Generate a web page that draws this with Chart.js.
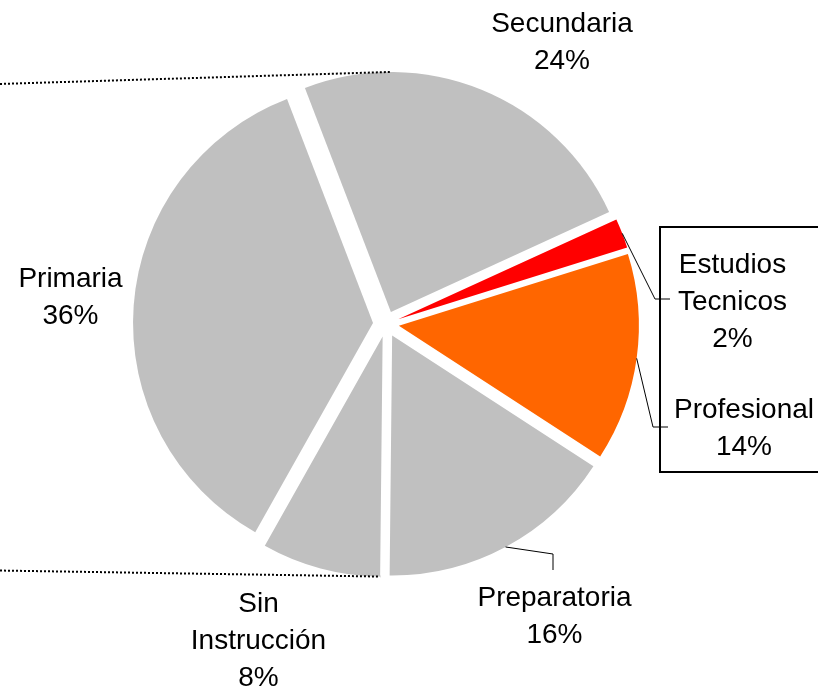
<!DOCTYPE html>
<html>
<head>
<meta charset="utf-8">
<script src="https://cdn.jsdelivr.net/npm/chart.js@4.4.1/dist/chart.umd.min.js"></script>
<style>
  html, body { margin: 0; padding: 0; background: #ffffff; }
  #wrap { width: 818px; height: 689px; }
</style>
</head>
<body>
<div id="wrap"><canvas id="c" width="818" height="689"></canvas></div>
<script>
// Nivel de escolaridad (porcentaje)
const categories = ['Secundaria', 'Estudios Tecnicos', 'Profesional', 'Preparatoria', 'Sin Instrucción', 'Primaria'];
const shares = [24, 2, 14, 16, 8, 36];
const sliceColors = ['#C0C0C0', '#FF0000', '#FF6600', '#C0C0C0', '#C0C0C0', '#C0C0C0'];
const labelLines = [['Secundaria'], ['Estudios', 'Tecnicos'], ['Profesional'], ['Preparatoria'], ['Sin', 'Instrucción'], ['Primaria']];

// label placement: [center x, first baseline y]
const labelAnchors = [[562, 32], [732.5, 273], [744, 418], [554.5, 606], [258.5, 612], [70.5, 287]];
// leader line elbows for labels set away from their slices: [slice index, elbow, end]
const leaders = [
  [1, [655, 299], [670, 299]],
  [2, [653, 427], [668, 427]],
  [3, [553, 554], [553, 570]]
];
const EXPLODE = 13;
const FONT = '28px "Liberation Sans", Arial, sans-serif';
const LINE_STEP = 37;

function sliceOrigin(arc) {
  const mid = (arc.startAngle + arc.endAngle) / 2;
  return [arc.x + Math.cos(mid) * EXPLODE, arc.y + Math.sin(mid) * EXPLODE];
}
function rimPoint(arc, angle) {
  const [ox, oy] = sliceOrigin(arc);
  return [ox + Math.cos(angle) * arc.outerRadius, oy + Math.sin(angle) * arc.outerRadius];
}

// every slice pulled out from the centre along its bisector
const explodePlugin = {
  id: 'explode',
  beforeDatasetDraw(chart, args) {
    const ctx = chart.ctx;
    args.meta.data.forEach(arc => {
      const mid = (arc.startAngle + arc.endAngle) / 2;
      ctx.save();
      ctx.translate(Math.cos(mid) * EXPLODE, Math.sin(mid) * EXPLODE);
      arc.draw(ctx);
      ctx.restore();
    });
    return false;
  }
};

const annotationPlugin = {
  id: 'annotations',
  afterDatasetsDraw(chart) {
    const ctx = chart.ctx;
    const arcs = chart.getDatasetMeta(0).data;
    ctx.save();

    // dotted connector lines leaving the pie to the left
    ctx.strokeStyle = '#000000';
    ctx.lineWidth = 2;
    ctx.setLineDash([2, 2]);
    const top = rimPoint(arcs[0], -Math.PI / 2);
    ctx.beginPath();
    ctx.moveTo(0, top[1] + 12);
    ctx.lineTo(top[0], top[1]);
    ctx.stroke();
    const bottom = rimPoint(arcs[4], arcs[4].startAngle);
    ctx.beginPath();
    ctx.moveTo(0, bottom[1] - 6);
    ctx.lineTo(bottom[0], bottom[1]);
    ctx.stroke();
    ctx.setLineDash([]);

    // frame around the two small-category labels
    ctx.lineWidth = 2;
    ctx.strokeRect(660, 227, 200, 245);

    // leader lines
    ctx.lineWidth = 1;
    leaders.forEach(([i, elbow, end]) => {
      const arc = arcs[i];
      const start = rimPoint(arc, (arc.startAngle + arc.endAngle) / 2);
      ctx.beginPath();
      ctx.moveTo(start[0], start[1]);
      ctx.lineTo(elbow[0], elbow[1]);
      ctx.lineTo(end[0], end[1]);
      ctx.stroke();
    });

    // category + percentage labels
    ctx.fillStyle = '#000000';
    ctx.font = FONT;
    ctx.textAlign = 'center';
    ctx.textBaseline = 'alphabetic';
    categories.forEach((c, i) => {
      const lines = labelLines[i].concat([shares[i] + '%']);
      const [x, y] = labelAnchors[i];
      lines.forEach((t, k) => ctx.fillText(t, x, y + k * LINE_STEP));
    });
    ctx.restore();
  }
};

new Chart(document.getElementById('c'), {
  type: 'pie',
  data: {
    labels: categories,
    datasets: [{
      data: shares,
      backgroundColor: sliceColors,
      borderWidth: 0
    }]
  },
  options: {
    responsive: false,
    animation: false,
    rotation: -21,
    radius: 240,
    layout: { padding: { left: 0, right: 46, top: 0, bottom: 41 } },
    plugins: {
      legend: { display: false },
      tooltip: { enabled: false }
    },
    events: []
  },
  plugins: [explodePlugin, annotationPlugin]
});
</script>
</body>
</html>
